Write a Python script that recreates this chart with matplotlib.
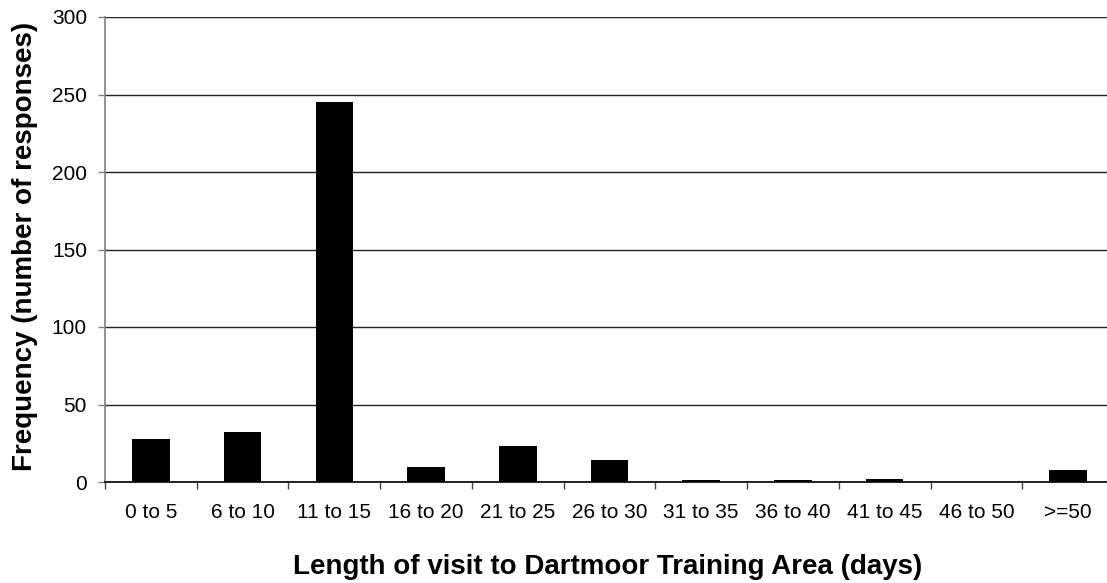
import matplotlib
matplotlib.use("Agg")
import matplotlib.pyplot as plt
import numpy as np

categories = ["0 to 5", "6 to 10", "11 to 15", "16 to 20", "21 to 25", "26 to 30",
              "31 to 35", "36 to 40", "41 to 45", "46 to 50", ">=50"]
frequency = [28, 32, 245, 10, 23, 14, 1, 1, 2, 0, 8]
y_ticks = [0, 50, 100, 150, 200, 250, 300]

plt.rcParams['font.family'] = ['Liberation Sans', 'DejaVu Sans']

W, H = 1107, 583
fig = plt.figure(figsize=(W / 100, H / 100), dpi=100)
left, right, top, bottom = 105, 1114, 17, 482
ax = fig.add_axes([left / W, 1 - bottom / H, (right - left) / W, (bottom - top) / H])

x = np.arange(len(categories))
ax.bar(x, frequency, width=0.41, color="black", zorder=3)

ax.set_xlim(-0.5, len(categories) - 0.5)
ax.set_ylim(0, 300)
ax.set_yticks(y_ticks)
ax.set_yticklabels([str(v) for v in y_ticks], fontsize=15)
ax.yaxis.grid(True, color="#222222", linewidth=1.0, zorder=0)
ax.set_axisbelow(True)

ax.set_xticks(x)
ax.set_xticklabels(categories, fontsize=15)
ax.set_xticks(np.arange(len(categories) + 1) - 0.5, minor=True)
ax.tick_params(axis="x", which="major", length=0, pad=15)
ax.tick_params(axis="x", which="minor", length=5, color="#444444", width=1)
ax.tick_params(axis="y", which="major", length=5, color="#808080", width=1, pad=8)

for s in ["top", "right"]:
    ax.spines[s].set_visible(False)
ax.spines["left"].set_color("#808080")
ax.spines["left"].set_linewidth(1.2)
ax.spines["bottom"].set_color("black")
ax.spines["bottom"].set_linewidth(1.2)

fig.text(25 / W, 1 - 246 / H, "Frequency (number of responses)", rotation=90,
         ha="center", va="center", fontsize=20, fontweight="bold")
fig.text(608 / W, 1 - 567 / H, "Length of visit to Dartmoor Training Area (days)",
         ha="center", va="center", fontsize=20, fontweight="bold")

fig.savefig("out.png", dpi=100)
